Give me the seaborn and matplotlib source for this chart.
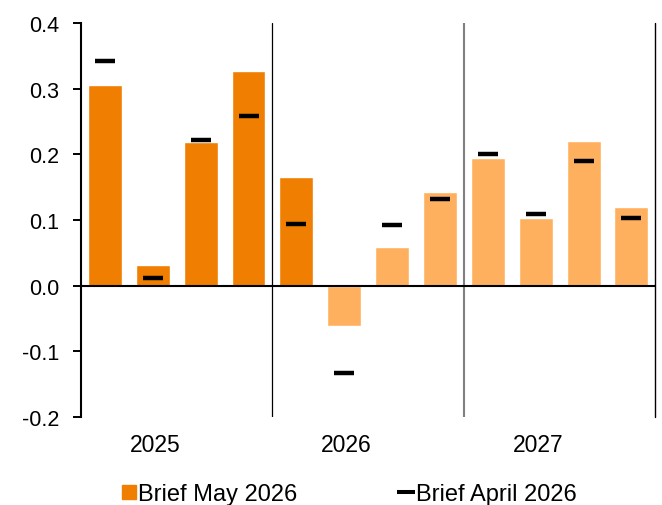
import numpy as np
import pandas as pd
import matplotlib
matplotlib.use("Agg")
import matplotlib.pyplot as plt
import seaborn as sns
from matplotlib.lines import Line2D
from matplotlib.ticker import FormatStrFormatter

# Quarterly growth, %, by vintage of the brief
quarters = ["2025Q1", "2025Q2", "2025Q3", "2025Q4",
            "2026Q1", "2026Q2", "2026Q3", "2026Q4",
            "2027Q1", "2027Q2", "2027Q3", "2027Q4"]
years = ["2025", "2026", "2027"]
may_2026 = [0.306, 0.031, 0.219, 0.327, 0.165, -0.061,
            0.059, 0.143, 0.194, 0.103, 0.221, 0.120]
april_2026 = [0.343, 0.012, 0.222, 0.259, 0.094, -0.133,
              0.092, 0.132, 0.200, 0.109, 0.190, 0.103]
status = ["outturn"] * 5 + ["forecast"] * 7

DARK = "#F07E00"
LIGHT = "#FFB05E"

sns.set_style("white")
plt.rcParams["font.family"] = ["Liberation Sans", "DejaVu Sans"]
plt.rcParams["axes.unicode_minus"] = False
plt.rcParams["text.color"] = "black"
plt.rcParams["xtick.color"] = "black"
plt.rcParams["ytick.color"] = "black"
plt.rcParams["xtick.labelcolor"] = "black"
plt.rcParams["ytick.labelcolor"] = "black"

df = pd.DataFrame({"quarter": quarters, "may": may_2026,
                   "april": april_2026, "status": status})

fig = plt.figure(figsize=(6.62, 5.06), dpi=100)
ax = fig.add_axes([81 / 662, 1 - 417.7 / 506, (655.3 - 81) / 662, (417.7 - 24.3) / 506])

sns.barplot(data=df, x="quarter", y="may", hue="status",
            palette={"outturn": DARK, "forecast": LIGHT},
            dodge=False, width=0.71, saturation=1, legend=False, ax=ax,
            zorder=2)

sns.scatterplot(x=np.arange(len(quarters)), y=df["april"], marker="_",
                s=220, linewidth=3.2, color="black", ax=ax, zorder=4,
                legend=False)

ax.set_xlim(-0.5, len(quarters) - 0.5)
ax.set_ylim(-0.2, 0.4)
ax.set_yticks([-0.2, -0.1, 0.0, 0.1, 0.2, 0.3, 0.4])
ax.yaxis.set_major_formatter(FormatStrFormatter("%.1f"))
ax.tick_params(axis="y", which="major", direction="out", length=5.5,
               width=1.4, color="black", labelsize=15.5, pad=10,
               left=True, labelcolor="black")

ax.set_xticks([1.05, 5.05, 9.05])
ax.set_xticklabels(years)
ax.tick_params(axis="x", length=0, labelsize=16.5, pad=12,
               labelcolor="black")
ax.set_xlabel("")
ax.set_ylabel("")

for side in ["top", "right", "bottom"]:
    ax.spines[side].set_visible(False)
ax.spines["left"].set_color("black")
ax.spines["left"].set_linewidth(1.5)

# zero line and year separators
ax.axhline(0, color="black", linewidth=1.5, zorder=3)
ax.axvline(3.5, color="black", linewidth=0.9, zorder=1)
ax.axvline(7.5, color="#808080", linewidth=1.5, zorder=1)
ax.axvline(11.5, color="black", linewidth=1.0, zorder=1, clip_on=False)

handles = [
    Line2D([], [], marker="s", color=DARK, linestyle="none", markersize=9.4),
    Line2D([], [], marker="_", color="black", linestyle="none",
           markersize=13, markeredgewidth=2.9),
]
fig.legend(handles, ["Brief May 2026", "Brief April 2026"],
           loc="center", bbox_to_anchor=(349 / 662, 1 - 495 / 506),
           ncol=2, frameon=False, fontsize=17, handlelength=0.6,
           handletextpad=0.1, columnspacing=4.3, borderpad=0,
           borderaxespad=0, labelcolor="black")

fig.savefig("out.png", dpi=100)
